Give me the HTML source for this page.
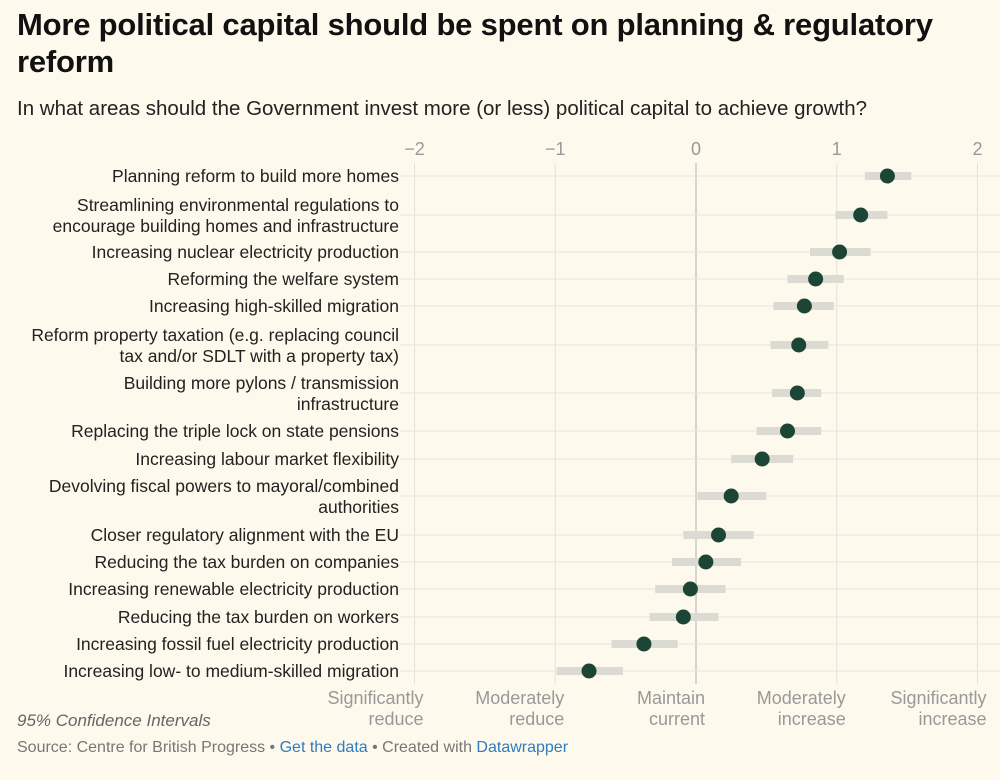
<!DOCTYPE html>
<html><head><meta charset="utf-8">
<style>
body{margin:0;background:#fdf9ec;font-family:"Liberation Sans",sans-serif;}
#wrap{position:relative;width:1000px;height:780px;overflow:hidden;background:#fdf9ec;}
h1{position:absolute;left:17px;top:6px;margin:0;font-size:31px;line-height:37px;font-weight:bold;color:#111;width:960px;letter-spacing:-0.2px}
.sub{position:absolute;left:17px;top:97px;font-size:20.5px;color:#222}
.note{position:absolute;left:17px;top:711px;font-size:17px;font-style:italic;color:#666}
.src{position:absolute;left:17px;top:739px;font-size:16px;color:#777}
.src a{color:#2f7cbf;text-decoration:none}
svg text{font-family:"Liberation Sans",sans-serif}
</style></head><body>
<div id="wrap">
<h1>More political capital should be spent on planning &amp; regulatory reform</h1>
<div class="sub">In what areas should the Government invest more (or less) political capital to achieve growth?</div>
<svg id="chart" width="1000" height="780" style="position:absolute;left:0;top:0"></svg>
<div class="note">95% Confidence Intervals</div>
<div class="src">Source: Centre for British Progress • <a>Get the data</a> • Created with <a>Datawrapper</a></div>
</div>
<script>
const categories=[["Planning reform to build more homes"],["Streamlining environmental regulations to","encourage building homes and infrastructure"],["Increasing nuclear electricity production"],["Reforming the welfare system"],["Increasing high-skilled migration"],["Reform property taxation (e.g. replacing council","tax and/or SDLT with a property tax)"],["Building more pylons / transmission","infrastructure"],["Replacing the triple lock on state pensions"],["Increasing labour market flexibility"],["Devolving fiscal powers to mayoral/combined","authorities"],["Closer regulatory alignment with the EU"],["Reducing the tax burden on companies"],["Increasing renewable electricity production"],["Reducing the tax burden on workers"],["Increasing fossil fuel electricity production"],["Increasing low- to medium-skilled migration"]];
const means=[1.36,1.17,1.02,0.85,0.77,0.73,0.72,0.65,0.47,0.25,0.16,0.07,-0.04,-0.09,-0.37,-0.76];
const lows=[1.20,0.99,0.81,0.65,0.55,0.53,0.54,0.43,0.25,0.01,-0.09,-0.17,-0.29,-0.33,-0.60,-0.99];
const highs=[1.53,1.36,1.24,1.05,0.98,0.94,0.89,0.89,0.69,0.50,0.41,0.32,0.21,0.16,-0.13,-0.52];
const ticks=[-2,-1,0,1,2];
const tickLabels=["\u22122","\u22121","0","1","2"];
const bottomLabels=[["Significantly","reduce"],["Moderately","reduce"],["Maintain","current"],["Moderately","increase"],["Significantly","increase"]];
const rowY=[176,215,252,279,306,345,393,431,459,496,535,562,589,617,644,671];
const svg=document.getElementById('chart');const NS="http://www.w3.org/2000/svg";
const x=v=>696+v*140.75;
function mk(t,a,p){const e=document.createElementNS(NS,t);for(const k in a)e.setAttribute(k,a[k]);(p||svg).appendChild(e);return e;}
ticks.forEach((t,i)=>{
 const l=mk('line',{x1:x(t),x2:x(t),y1:163,y2:684,stroke:t===0?'#c8c8c4':'#e4e2da','stroke-width':t===0?1.5:1});
 
 
 const tx=mk('text',{x:x(t),y:155,'text-anchor':'middle','font-size':18,fill:'#999'});tx.textContent=tickLabels[i];
 
 
 bottomLabels[i].forEach((s,j)=>{const b=mk('text',{x:x(t)+9,y:704+j*21,'text-anchor':'end','font-size':18,fill:'#999'});b.textContent=s;
 
 });
});
categories.forEach((c,i)=>{
 const y=rowY[i];
 const g=mk('line',{x1:400,x2:1000,y1:y,y2:y,stroke:'#e8e6de','stroke-width':1});
 
 
 c.forEach((s,j)=>{const ty=c.length===1?y+6:y-4+j*21;const t=mk('text',{x:399,y:ty,'text-anchor':'end','font-size':17.5,fill:'#222'});t.textContent=s;
 
 });
 const r=mk('rect',{x:x(lows[i]),y:y-4,width:x(highs[i])-x(lows[i]),height:8,fill:'#dcdbd3'});
 
 
 const d=mk('circle',{cx:x(means[i]),cy:y,r:7.5,fill:'#1d4535'});
 
 
});
</script>
</body></html>
